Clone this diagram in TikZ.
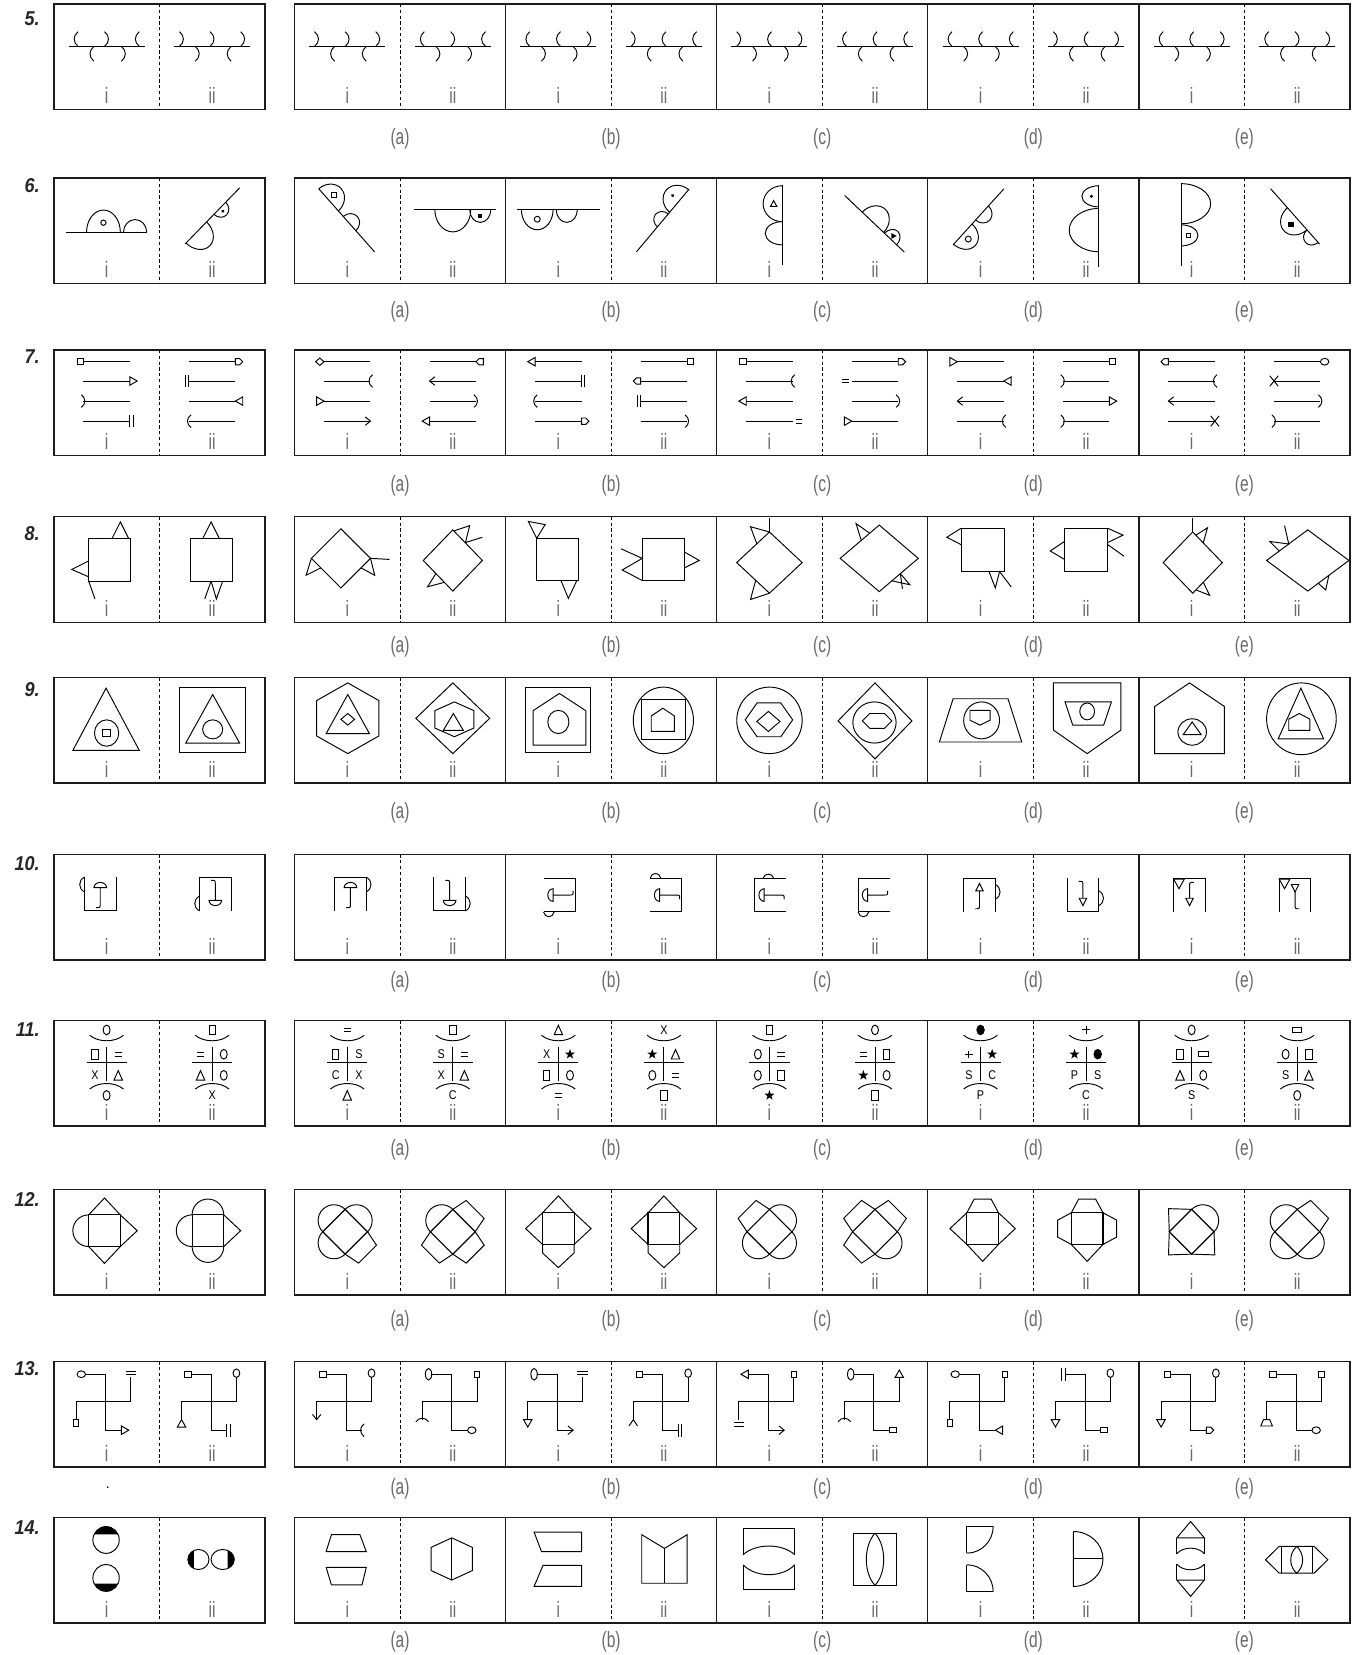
\documentclass[tikz,border=0pt]{standalone}
\usepackage{fontspec}
\setmainfont{Liberation Sans}
\definecolor{LabelGrey}{HTML}{6A6A6A}
\definecolor{FrameInk}{HTML}{1C1C1C}
\newcounter{letnode}

% one row of the sheet: #1 number, #2 top of boxes, #3 y of (a)-(e), #4 y of number
\newcommand\qrow[4]{%
  \draw[boxline] (51,-#2) rectangle (251,-#2-100);
  \draw[midline] (151,-#2) -- (151,-#2-100);
  \node[plabel] (q#1-i) at (101,-#2-87) {i};
  \node[plabel] (q#1-ii) at (201,-#2-87) {ii};
  \node[rownum] (q#1) at (38,-#4) {#1.};
  \foreach \k/\lt in {0/a,1/b,2/c,3/d,4/e}{
    \draw[boxline] (279+200*\k,-#2) rectangle (479+200*\k,-#2-100);
    \draw[midline] (379+200*\k,-#2) -- (379+200*\k,-#2-100);
    \node[plabel] (q#1\lt-i) at (329+200*\k,-#2-87) {i};
    \node[plabel] (q#1\lt-ii) at (429+200*\k,-#2-87) {ii};
    \node[plabel] (q#1\lt) at (379+200*\k,-#3) {(\lt)};
  }}

% 5: hooks on a bar (1 = "(", -1 = ")")
\newcommand\hooks[7]{%
  \begin{scope}[shift={(#1,-#2)}]
    \draw[line width=1.4pt] (-36,0) -- (36,0);
    \foreach \x/\s in {-29/#3,0/#4,29/#5}
      \draw ({\x+2*(\s)},0) .. controls ({\x-3*(\s)},4) and ({\x-3*(\s)},10) .. ({\x+2*(\s)},14);
    \foreach \x/\s in {-14/#6,16/#7}
      \draw ({\x+2*(\s)},0) .. controls ({\x-3*(\s)},-4) and ({\x-3*(\s)},-10) .. ({\x+2*(\s)},-14);
  \end{scope}}

% 6: half lobe on a line: position, radius along, radius across, side
\newcommand\lobe[4]{\draw (#1-#2,0) arc[start angle=180,end angle={180-180*(#4)},x radius=#2,y radius=#3];}

% 7 and 13: end marks, #1 end of line, #2 outward direction
\newcommand\dNo[2]{}
\newcommand\dSq[2]{\draw (#1,-2.6) rectangle ({#1+6*(#2)},2.6);}
\newcommand\dTri[2]{\draw (#1,-4) -- ({#1+7*(#2)},0) -- (#1,4) -- cycle;}
\newcommand\dTrin[2]{\draw (#1,0) -- ({#1+7*(#2)},4) -- ({#1+7*(#2)},-4) -- cycle;}
\newcommand\dArr[2]{\draw ({#1-5*(#2)},4) -- (#1,0) -- ({#1-5*(#2)},-4);}
\newcommand\dPout[2]{\draw ({#1-2*(#2)},6) .. controls ({#1+2.5*(#2)},3) and ({#1+2.5*(#2)},-3) .. ({#1-2*(#2)},-6);}
\newcommand\dPin[2]{\draw ({#1+2*(#2)},6) .. controls ({#1-2.5*(#2)},3) and ({#1-2.5*(#2)},-3) .. ({#1+2*(#2)},-6);}
\newcommand\dBar[2]{\draw (#1,-6) -- (#1,6) ({#1+3*(#2)},-6) -- ({#1+3*(#2)},6);}
\newcommand\dBarg[2]{\draw ({#1+3*(#2)},-5) -- ({#1+3*(#2)},5) ({#1+6*(#2)},-5) -- ({#1+6*(#2)},5);}
\newcommand\dPent[2]{\draw (#1,-3) -- ({#1+4*(#2)},-3) -- ({#1+7*(#2)},0) -- ({#1+4*(#2)},3) -- (#1,3) -- cycle;}
\newcommand\dPentin[2]{\draw (#1,0) -- ({#1+3*(#2)},3) -- ({#1+7*(#2)},3) -- ({#1+7*(#2)},-3) -- ({#1+3*(#2)},-3) -- cycle;}
\newcommand\dCirc[2]{\draw ({#1+4*(#2)},0) ellipse[x radius=4,y radius=3.2];}
\newcommand\dOval[2]{\draw ({#1+3*(#2)},0) ellipse[x radius=3,y radius=5.5];}
\newcommand\dDia[2]{\draw (#1,0) -- ({#1+4*(#2)},3.5) -- ({#1+8*(#2)},0) -- ({#1+4*(#2)},-3.5) -- cycle;}
\newcommand\dEq[2]{\draw ({#1+3*(#2)},1.8) -- ({#1+9*(#2)},1.8) ({#1+3*(#2)},-1.8) -- ({#1+9*(#2)},-1.8);}
\newcommand\dX[2]{\draw (#1-4,-5) -- (#1+4,5) (#1-4,5) -- (#1+4,-5);}
\newcommand\dVee[2]{\draw ({#1+6*(#2)},4) -- (#1,0) -- ({#1+6*(#2)},-4);}
\newcommand\dTrap[2]{\draw (#1,-3) -- ({#1+6*(#2)},-5.5) -- ({#1+6*(#2)},5.5) -- (#1,3) -- cycle;}
\newcommand\arrline[4]{\begin{scope}[shift={(#1,-#2)}]\draw (-22,0) -- (22,0); #3{-22}{-1}#4{22}{1}\end{scope}}
\newcommand\arrpanel[9]{\arrline{#1}{342.7}{#2}{#3}\arrline{#1}{361}{#4}{#5}\arrline{#1}{380}{#6}{#7}\arrline{#1}{399}{#8}{#9}}

% 9: outlines, centre x, centre y, width, height
\newcommand\shTri[4]{\draw[shift={(#1,-#2)}] (0,#4/2) -- (#3/2,-#4/2) -- (-#3/2,-#4/2) -- cycle;}
\newcommand\shSq[4]{\draw[shift={(#1,-#2)}] (-#3/2,-#4/2) rectangle (#3/2,#4/2);}
\newcommand\shCirc[4]{\draw[shift={(#1,-#2)}] (0,0) ellipse[x radius=#3/2,y radius=#4/2];}
\newcommand\shHex[4]{\draw[shift={(#1,-#2)}] (0,#4/2) -- (#3/2,#4/4) -- (#3/2,-#4/4) -- (0,-#4/2) -- (-#3/2,-#4/4) -- (-#3/2,#4/4) -- cycle;}
\newcommand\shHexh[4]{\draw[shift={(#1,-#2)}] (-#3/4,#4/2) -- (#3/4,#4/2) -- (#3/2,0) -- (#3/4,-#4/2) -- (-#3/4,-#4/2) -- (-#3/2,0) -- cycle;}
\newcommand\shDia[4]{\draw[shift={(#1,-#2)}] (0,#4/2) -- (#3/2,0) -- (0,-#4/2) -- (-#3/2,0) -- cycle;}
\newcommand\shPent[4]{\draw[shift={(#1,-#2)}] (0,#4/2) -- (#3/2,#4/6) -- (#3/2,-#4/2) -- (-#3/2,-#4/2) -- (-#3/2,#4/6) -- cycle;}
\newcommand\shPentd[4]{\draw[shift={(#1,-#2)}] (0,-#4/2) -- (#3/2,-#4/6) -- (#3/2,#4/2) -- (-#3/2,#4/2) -- (-#3/2,-#4/6) -- cycle;}
\newcommand\shTrap[4]{\draw[shift={(#1,-#2)}] (-#3/3,#4/2) -- (#3/3,#4/2) -- (#3/2,-#4/2) -- (-#3/2,-#4/2) -- cycle;}
\newcommand\shTrapd[4]{\draw[shift={(#1,-#2)}] (-#3/2,#4/2) -- (#3/2,#4/2) -- (#3/3,-#4/2) -- (-#3/3,-#4/2) -- cycle;}

% 10: cap and arrow tip
\newcommand\domeat[3]{\draw[shift={(#1,#2)},rotate=#3] (-6,0) arc[start angle=180,end angle=0,x radius=6,y radius=5] -- cycle;}
\newcommand\tipat[3]{\draw[shift={(#1,#2)},rotate=#3] (-3.5,0) -- (0,7) -- (3.5,0) -- cycle;}

% 11: small signs
\newcommand\glLet[3]{\stepcounter{letnode}\node[letter] (let\arabic{letnode}) at (#1,#2) {#3};}
\newcommand\glO[2]{\draw (#1,#2) ellipse[x radius=3.3,y radius=4.6];}
\newcommand\glSq[2]{\draw (#1-3,#2-4.5) rectangle (#1+3,#2+4.5);}
\newcommand\glRc[2]{\draw (#1-4.5,#2-2.5) rectangle (#1+4.5,#2+2.5);}
\newcommand\glEq[2]{\draw (#1-3.5,#2+1.8) -- (#1+3.5,#2+1.8) (#1-3.5,#2-1.8) -- (#1+3.5,#2-1.8);}
\newcommand\glTr[2]{\draw (#1-4,#2-4.5) -- (#1,#2+4.5) -- (#1+4,#2-4.5) -- cycle;}
\newcommand\glSt[2]{\fill[shift={(#1,#2)}] (90:5) -- (126:2) -- (162:5) -- (198:2) -- (234:5) -- (270:2) -- (306:5) -- (342:2) -- (18:5) -- (54:2) -- cycle;}
\newcommand\glDot[2]{\fill (#1,#2) ellipse[x radius=4,y radius=5];}
\newcommand\glPl[2]{\draw (#1-3.5,#2) -- (#1+3.5,#2) (#1,#2-3.5) -- (#1,#2+3.5);}
\newcommand\glX[2]{\glLet{#1}{#2}{X}}
\newcommand\glS[2]{\glLet{#1}{#2}{S}}
\newcommand\glC[2]{\glLet{#1}{#2}{C}}
\newcommand\glP[2]{\glLet{#1}{#2}{P}}
\newcommand\crossfig[7]{%
  \begin{scope}[shift={(#1,-966.8)}]
    #2{0}{-9}
    \draw (-16,-14) .. controls (-8,-21) and (8,-21) .. (16,-14);
    \draw[line width=1.3pt] (-19,-40) -- (19,-40);
    \draw (0,-25) -- (0,-57);
    #3{-11}{-32} #4{11}{-32} #5{-11}{-52} #6{11}{-52}
    \draw (-16,-65) .. controls (-8,-58) and (8,-58) .. (16,-65);
    #7{0}{-71}
  \end{scope}}

% 12: square (or diamond) with pieces on its sides: top, right, bottom, left
\newcommand\atT{\draw (-15,15) -- (0,31) -- (15,15);}
\newcommand\atC{\draw (-15,15) arc[start angle=180,end angle=0,x radius=15,y radius=15];}
\newcommand\atQ{\draw (-15,15) -- (-12,30) -- (12,30) -- (15,15);}
\newcommand\atN{\draw (-15,15) -- (-8,28) -- (8,28) -- (15,15);}
\newcommand\atP{\draw (-15,15) -- (-15,23) -- (0,37) -- (15,23) -- (15,15);}
\newcommand\sqcore[7]{%
  \begin{scope}[shift={(#1,-#2)},rotate=#3]
    \draw[line width=1.1pt] (-15,-15) rectangle (15,15);
    #4
    \begin{scope}[rotate=-90] #5 \end{scope}
    \begin{scope}[rotate=180] #6 \end{scope}
    \begin{scope}[rotate=90] #7 \end{scope}
  \end{scope}}

% 13: two crossing hooks with end marks
\newcommand\zfig[5]{%
  \begin{scope}[shift={(#1,-1288)}]
    \draw (-20,-14) -- (-1,-14) -- (-1,-67) -- (14,-67);
    \draw (23,-17) -- (23,-40) -- (-29,-40) -- (-29,-57);
    \begin{scope}[shift={(-20,-14)},rotate=180] #2{0}{1} \end{scope}
    \begin{scope}[shift={(14,-67)}] #3{0}{1} \end{scope}
    \begin{scope}[shift={(23,-17)},rotate=90] #4{0}{1} \end{scope}
    \begin{scope}[shift={(-29,-57)},rotate=-90] #5{0}{1} \end{scope}
  \end{scope}}

\begin{document}
\begin{tikzpicture}[
    x=1pt,y=1pt,line width=0.9pt,
    boxline/.style={line width=1.3pt,draw=FrameInk},
    midline/.style={line width=0.8pt,dash pattern=on 3pt off 2.5pt},
    plabel/.style={font=\fontsize{21}{21}\selectfont,text=LabelGrey,xscale=0.7,inner sep=0pt},
    rownum/.style={font=\fontsize{19}{19}\selectfont\bfseries\itshape,text=black!85,anchor=east,xscale=0.9,inner sep=0pt},
    letter/.style={font=\fontsize{12}{12}\selectfont,xscale=0.85,inner sep=0pt}
  ]
  \fill[white] (0,0) rectangle (1281,-1568);
  \useasboundingbox (0,0) rectangle (1281,-1568);

  \qrow{5}{3.8}{131.7}{18}
  \qrow{6}{168.7}{295.6}{175.5}
  \qrow{7}{331.6}{460.3}{338}
  \qrow{8}{489.6}{612.7}{506}
  \qrow{9}{641.8}{770}{653}
  \qrow{10}{809.5}{930}{818}
  \qrow{11}{966.8}{1089.6}{975}
  \qrow{12}{1126.9}{1251.7}{1136}
  \qrow{13}{1289.9}{1410.5}{1297}
  \qrow{14}{1437.7}{1555.7}{1447}
  \fill (102,-1409) circle[radius=0.9];

  % 5
  \hooks{101}{44}{1}{-1}{1}{1}{-1}
  \hooks{201}{44}{-1}{-1}{-1}{-1}{1}
  \hooks{329}{44}{-1}{-1}{-1}{1}{1}
  \hooks{429}{44}{1}{-1}{1}{-1}{-1}
  \hooks{529}{44}{1}{1}{-1}{-1}{-1}
  \hooks{629}{44}{-1}{1}{1}{1}{1}
  \hooks{729}{44}{-1}{1}{-1}{-1}{-1}
  \hooks{829}{44}{1}{1}{1}{1}{1}
  \hooks{929}{44}{1}{1}{1}{-1}{-1}
  \hooks{1029}{44}{-1}{1}{-1}{1}{1}
  \hooks{1129}{44}{1}{1}{-1}{-1}{-1}
  \hooks{1229}{44}{1}{-1}{-1}{1}{1}

  % 6
  \begin{scope}[shift={(101,-220)}]
    \draw (-38,0) -- (38,0); \lobe{-3}{16}{21}{1} \lobe{27}{11}{12}{1}
    \draw (-3,9) circle[radius=2.5];
  \end{scope}
  \begin{scope}[shift={(201.3,-204.5)},rotate=45.8]
    \draw (-37,0) -- (37,0); \lobe{-22}{14}{18}{-1} \lobe{10}{8}{9}{-1}
    \fill (10,-4) circle[radius=1.6];
  \end{scope}
  \begin{scope}[shift={(328.5,-208.8)},rotate=-48.5]
    \draw (-40,0) -- (40,0); \lobe{-26}{14}{16}{1} \lobe{4}{9}{10}{1}
    \draw[shift={(-26,7)},rotate=48.5] (-2.2,-2.2) rectangle (2.2,2.2);
  \end{scope}
  \begin{scope}[shift={(431,-198.7)}]
    \draw (-39,0) -- (39,0); \lobe{-2}{17}{21}{-1} \lobe{24}{10}{12}{-1}
    \fill (22,-8) rectangle (26,-4);
  \end{scope}
  \begin{scope}[shift={(529,-198.7)}]
    \draw (-39,0) -- (39,0); \lobe{-20}{15}{19}{-1} \lobe{8}{10}{12}{-1}
    \draw (-20,-9) circle[radius=2.8];
  \end{scope}
  \begin{scope}[shift={(628,-208.8)},rotate=50]
    \draw (-39,0) -- (39,0); \lobe{24}{14}{16}{1} \lobe{0}{8}{9}{1}
    \fill (24,8) circle[radius=1.6];
  \end{scope}
  \begin{scope}[shift={(741,-213)},rotate=90]
    \draw (-38,0) -- (38,0); \lobe{20}{17}{18}{1} \lobe{-8}{11}{16}{1}
    \draw[shift={(20,8)},rotate=-90] (-3,-2.5) -- (3,-2.5) -- (0,3) -- cycle;
  \end{scope}
  \begin{scope}[shift={(828.5,-212)},rotate=-43.5]
    \draw (-39,0) -- (39,0); \lobe{-2}{14}{17}{1} \lobe{21}{8}{10}{1}
    \fill[shift={(21,4)},rotate=43.5] (-2,-2.8) -- (3,0) -- (-2,2.8) -- cycle;
  \end{scope}
  \begin{scope}[shift={(927,-205.5)},rotate=47.8]
    \draw (-36,0) -- (36,0); \lobe{-22}{13}{16}{-1} \lobe{5}{9}{10}{-1}
    \draw (-22,-7) circle[radius=2.8];
  \end{scope}
  \begin{scope}[shift={(1041,-214)},rotate=90]
    \draw (-39,0) -- (39,0); \lobe{28}{10}{16}{1} \lobe{-4}{20.5}{28}{1}
    \fill (28,7) circle[radius=1.6];
  \end{scope}
  \begin{scope}[shift={(1119,-213)},rotate=90]
    \draw (-39,0) -- (39,0); \lobe{20}{19}{28}{-1} \lobe{-10}{10}{16}{-1}
    \draw (-12.2,-9.2) rectangle (-7.8,-4.8);
  \end{scope}
  \begin{scope}[shift={(1227,-205)},rotate=-48.5]
    \draw (-35,0) -- (35,0); \lobe{3}{14}{17}{-1} \lobe{25}{8}{9}{-1}
    \fill[shift={(3,-8)},rotate=48.5] (-2.5,-2.5) rectangle (2.5,2.5);
  \end{scope}

  % 7
  \arrpanel{101}{\dSq}{\dNo}{\dNo}{\dTri}{\dPin}{\dNo}{\dNo}{\dBar}
  \arrpanel{201}{\dNo}{\dPent}{\dBar}{\dNo}{\dNo}{\dTrin}{\dPout}{\dNo}
  \arrpanel{329}{\dDia}{\dNo}{\dNo}{\dPin}{\dTrin}{\dNo}{\dNo}{\dArr}
  \arrpanel{429}{\dNo}{\dPentin}{\dArr}{\dNo}{\dNo}{\dPout}{\dTri}{\dNo}
  \arrpanel{529}{\dTri}{\dNo}{\dNo}{\dBar}{\dPout}{\dNo}{\dNo}{\dPent}
  \arrpanel{629}{\dNo}{\dSq}{\dPent}{\dNo}{\dBar}{\dNo}{\dNo}{\dPout}
  \arrpanel{729}{\dSq}{\dNo}{\dNo}{\dPin}{\dTri}{\dNo}{\dNo}{\dEq}
  \arrpanel{829}{\dNo}{\dPent}{\dEq}{\dNo}{\dNo}{\dPout}{\dTrin}{\dNo}
  \arrpanel{929}{\dTrin}{\dNo}{\dNo}{\dTrin}{\dArr}{\dNo}{\dNo}{\dPin}
  \arrpanel{1029}{\dNo}{\dSq}{\dPin}{\dNo}{\dNo}{\dTri}{\dPin}{\dNo}
  \arrpanel{1129}{\dPent}{\dNo}{\dNo}{\dPin}{\dArr}{\dNo}{\dNo}{\dX}
  \arrpanel{1229}{\dNo}{\dCirc}{\dX}{\dNo}{\dNo}{\dPout}{\dPin}{\dNo}

  % 8
  \begin{scope}[shift={(104,-530.5)}]
    \draw (-20,-20) rectangle (20,20);
    \draw (2,20) -- (10,36) -- (18,20);
    \draw (-20,-1) -- (-36,-9) -- (-20,-16);
    \draw (-20,-20) -- (-14,-37);
  \end{scope}
  \begin{scope}[shift={(200,-530.5)}]
    \draw (-20,-20) rectangle (20,20);
    \draw (-8,20) -- (0,36) -- (8,20);
    \draw (0,-20) -- (5,-37) -- (11,-20);
    \draw (0,-20) -- (-6,-37);
  \end{scope}
  \begin{scope}[shift={(323,-529)}]
    \draw (0,28) -- (28,0) -- (0,-28) -- (-28,0) -- cycle;
    \draw (-28,0) -- (-33,-16) -- (-19,-9);
    \draw (28,0) -- (46,-1);
    \draw (28,0) -- (32,-16) -- (19,-9);
  \end{scope}
  \begin{scope}[shift={(429,-531)}]
    \draw (0,29) -- (28,0) -- (0,-29) -- (-28,0) -- cycle;
    \draw (1,28) -- (16,33) -- (12,17) -- (28,22);
    \draw (-8,-20.7) -- (-24,-25) -- (-16,-12.4);
  \end{scope}
  \begin{scope}[shift={(528.5,-530)}]
    \draw (-20,-20) rectangle (20,20);
    \draw (-20,20) -- (-28,36) -- (-12,33) -- cycle;
    \draw (3,-20) -- (10,-37) -- (18,-20);
  \end{scope}
  \begin{scope}[shift={(628.5,-530)}]
    \draw (-20,-20) rectangle (20,20);
    \draw (-40,10) -- (-20,1) -- (-39,-10) -- (-20,-20);
    \draw (20,7) -- (34,-1) -- (20,-8);
  \end{scope}
  \begin{scope}[shift={(729,-533)}]
    \draw (0,29) -- (31,0) -- (0,-29) -- (-31,0) -- cycle;
    \draw (0,29) -- (0,42);
    \draw (0,29) -- (-18,34) -- (-12,17.8);
    \draw (0,-29) -- (-18,-35) -- (-13,-16.8);
  \end{scope}
  \begin{scope}[shift={(833,-529)}]
    \draw (0,31.5) -- (37,0) -- (0,-31.5) -- (-37,0) -- cycle;
    \draw (-9,23.8) -- (-22,33) -- (-17,17);
    \draw (20,-14.5) -- (29,-25) -- (12,-21.3);
    \draw (20,-14.5) -- (22,-29);
  \end{scope}
  \begin{scope}[shift={(931,-521)}]
    \draw (-20.5,-20.5) rectangle (20.5,20.5);
    \draw (-20.5,20.5) -- (-34,12) -- (-20.5,5);
    \draw (6,-20.5) -- (12,-36) -- (16,-20.5) -- (27,-35);
  \end{scope}
  \begin{scope}[shift={(1029,-521)}]
    \draw (-20.5,-20.5) rectangle (20.5,20.5);
    \draw (-20.5,8) -- (-34,-1) -- (-20.5,-9);
    \draw (20.5,20.5) -- (35,14) -- (20.5,7);
    \draw (20.5,5) -- (36,-6);
  \end{scope}
  \begin{scope}[shift={(1130,-533)}]
    \draw (0,29) -- (28,0) -- (0,-29) -- (-28,0) -- cycle;
    \draw (0,29) -- (0,42);
    \draw (3,25.9) -- (14,33) -- (10,18.6);
    \draw (3,-25.9) -- (16,-31) -- (10,-18.6);
  \end{scope}
  \begin{scope}[shift={(1239,-531)}]
    \draw (0,29) -- (39,0) -- (0,-29) -- (-39,0) -- cycle;
    \draw (-27,8.9) -- (-36,18) -- (-18,15.6) -- (-22,33);
    \draw (20,-14.1) -- (17,-28) -- (10,-21.6);
  \end{scope}

  % 9
  \shTri{100.5}{681.5}{63}{59} \shCirc{101}{694.5}{23}{25} \shSq{101}{694.5}{8}{7}
  \shSq{201.5}{682}{63}{62} \shTri{201.5}{681}{51}{46} \shCirc{201.5}{691}{19}{18}
  \shHex{329.5}{680.5}{59}{67} \shTri{329.5}{676.5}{41}{37} \shDia{329.5}{681.5}{13}{11}
  \shDia{429}{680.5}{70}{67} \shHex{430.5}{681.5}{37}{33} \shTri{429.5}{684}{19}{16}
  \shSq{528.5}{682}{61}{62} \shPent{530}{681.5}{50}{49} \shCirc{529}{684}{20}{22}
  \shCirc{628.5}{682.5}{57}{63} \shSq{628.5}{682}{41}{38} \shPent{628}{682}{22}{22}
  \shCirc{729}{682.5}{62}{63} \shHexh{728.5}{682}{45}{32} \shDia{728}{683.5}{22}{19}
  \shDia{829}{683}{70}{72} \shCirc{828.5}{684.5}{41}{39} \shHexh{831}{683}{28}{14}
  \shTrap{929}{682.5}{78}{41} \shCirc{930}{682.5}{34}{35} \shPentd{928.5}{680}{19}{14}
  \shPentd{1030}{680.5}{64}{67} \shTrapd{1031}{676}{44}{22} \shCirc{1030}{674}{14}{16}
  \shPent{1127}{680.5}{66}{67} \shCirc{1129.5}{693.5}{27}{25} \shTri{1129.5}{690}{17}{12}
  \shCirc{1233}{681}{66}{68} \shTri{1232.5}{676}{43}{48} \shPent{1231}{684}{20}{16}

  % 10
  \begin{scope}[shift={(95,-847)}]
    \draw (-15,16) -- (-15,-16) -- (15,-16) -- (15,16);
    \draw (-15,16) .. controls (-21,13) and (-21,5) .. (-15,2);
    \domeat{0}{6}{0}
    \draw (0,6) -- (0,-9) .. controls (0,-13) .. (-4,-13);
  \end{scope}
  \begin{scope}[shift={(204,-847)}]
    \draw (-15,-16) -- (-15,16) -- (15,16) -- (15,-16);
    \draw (-15,-16) .. controls (-21,-13) and (-21,-5) .. (-15,-2);
    \domeat{0}{-6}{180}
    \draw (0,-6) -- (0,9) .. controls (0,13) .. (-4,13);
  \end{scope}
  \begin{scope}[shift={(332,-847)}]
    \draw (-15,-16) -- (-15,16) -- (15,16) -- (15,-16);
    \draw (15,16) .. controls (21,13) and (21,5) .. (15,2);
    \domeat{0}{6}{0}
    \draw (0,6) -- (0,-9) .. controls (0,-13) .. (-4,-13);
  \end{scope}
  \begin{scope}[shift={(426,-847)}]
    \draw (-15,16) -- (-15,-16) -- (15,-16) -- (15,16);
    \draw (15,-16) .. controls (21,-13) and (21,-5) .. (15,-2);
    \domeat{0}{-6}{180}
    \draw (0,-6) -- (0,9) .. controls (0,13) .. (-4,13);
  \end{scope}
  \begin{scope}[shift={(530,-848)}]
    \draw (-15,16) -- (15,16) -- (15,-16) -- (-15,-16);
    \draw (-15,-16) .. controls (-14,-22) and (-6,-22) .. (-5,-16);
    \domeat{-6}{0}{90}
    \draw (-6,0) -- (9,0) .. controls (13,0) .. (13,4);
  \end{scope}
  \begin{scope}[shift={(631,-848)}]
    \draw (-15,16) -- (15,16) -- (15,-16) -- (-15,-16);
    \draw (-15,16) .. controls (-14,22) and (-6,22) .. (-5,16);
    \domeat{-6}{0}{90}
    \draw (-6,0) -- (9,0) .. controls (13,0) .. (13,-4);
  \end{scope}
  \begin{scope}[shift={(730,-848)}]
    \draw (15,16) -- (-15,16) -- (-15,-16) -- (15,-16);
    \draw (-7,16) .. controls (-6,21) and (2,21) .. (3,16);
    \domeat{-6}{0}{90}
    \draw (-6,0) -- (9,0) .. controls (13,0) .. (13,-4);
  \end{scope}
  \begin{scope}[shift={(828,-848)}]
    \draw (15,16) -- (-15,16) -- (-15,-16) -- (15,-16);
    \draw (-15,-16) .. controls (-14,-22) and (-6,-22) .. (-5,-16);
    \domeat{-6}{0}{90}
    \draw (-6,0) -- (9,0) .. controls (13,0) .. (13,4);
  \end{scope}
  \begin{scope}[shift={(928,-848)}]
    \draw (-15,-16) -- (-15,16) -- (15,16) -- (15,-16);
    \draw (15,10) .. controls (21,7) and (21,-1) .. (15,-4);
    \tipat{0}{4}{0}
    \draw (0,4) -- (0,-9) .. controls (0,-13) .. (-4,-13);
  \end{scope}
  \begin{scope}[shift={(1026,-848)}]
    \draw (-15,16) -- (-15,-16) -- (15,-16) -- (15,16);
    \draw (15,4) .. controls (21,1) and (21,-7) .. (15,-10);
    \tipat{0}{-3}{180}
    \draw (0,-3) -- (0,9) .. controls (0,13) .. (-4,13);
  \end{scope}
  \begin{scope}[shift={(1127,-848)}]
    \draw (-15,-16) -- (-15,16) -- (15,16) -- (15,-16);
    \draw (-15,15) -- (-5,15) -- (-10,6) -- cycle;
    \draw (4,12) .. controls (0,12) .. (0,8) -- (0,-3);
    \tipat{0}{-3}{180}
  \end{scope}
  \begin{scope}[shift={(1227,-848)}]
    \draw (-15,-16) -- (-15,16) -- (15,16) -- (15,-16);
    \draw (-15,15) -- (-5,15) -- (-10,6) -- cycle;
    \tipat{0}{10}{180}
    \draw (0,3) -- (0,-9) .. controls (0,-13) .. (4,-13);
  \end{scope}

  % 11
  \crossfig{101}{\glO}{\glSq}{\glEq}{\glX}{\glTr}{\glO}
  \crossfig{201}{\glSq}{\glEq}{\glO}{\glTr}{\glO}{\glX}
  \crossfig{329}{\glEq}{\glSq}{\glS}{\glC}{\glX}{\glTr}
  \crossfig{429}{\glSq}{\glS}{\glEq}{\glX}{\glTr}{\glC}
  \crossfig{529}{\glTr}{\glX}{\glSt}{\glSq}{\glO}{\glEq}
  \crossfig{629}{\glX}{\glSt}{\glTr}{\glO}{\glEq}{\glSq}
  \crossfig{729}{\glSq}{\glO}{\glEq}{\glO}{\glSq}{\glSt}
  \crossfig{829}{\glO}{\glEq}{\glSq}{\glSt}{\glO}{\glSq}
  \crossfig{929}{\glDot}{\glPl}{\glSt}{\glS}{\glC}{\glP}
  \crossfig{1029}{\glPl}{\glSt}{\glDot}{\glP}{\glS}{\glC}
  \crossfig{1129}{\glO}{\glSq}{\glRc}{\glTr}{\glO}{\glS}
  \crossfig{1229}{\glRc}{\glO}{\glSq}{\glS}{\glTr}{\glO}

  % 12
  \sqcore{99}{1166}{0}{\atT}{\atT}{\atT}{\atC}
  \sqcore{197}{1166}{0}{\atC}{\atT}{\atC}{\atC}
  \sqcore{327}{1167}{45}{\atC}{\atC}{\atQ}{\atC}
  \sqcore{429}{1167}{45}{\atC}{\atQ}{\atQ}{\atQ}
  \sqcore{529}{1164}{0}{\atT}{\atT}{\atP}{\atT}
  \sqcore{629}{1164}{0}{\atT}{\atT}{\atP}{\atT}
  \sqcore{729}{1167}{45}{\atQ}{\atC}{\atC}{\atC}
  \sqcore{829}{1167}{45}{\atQ}{\atQ}{\atC}{\atQ}
  \sqcore{931}{1164}{0}{\atN}{\atT}{\atT}{\atT}
  \sqcore{1030}{1164}{0}{\atN}{\atN}{\atT}{\atN}
  \sqcore{1129}{1167}{45}{\atT}{\atC}{\atT}{\atT}
  \sqcore{1229}{1167}{45}{\atC}{\atQ}{\atC}{\atC}

  % 13
  \zfig{101}{\dCirc}{\dTri}{\dBarg}{\dSq}
  \zfig{201}{\dSq}{\dBar}{\dCirc}{\dTrin}
  \zfig{329}{\dSq}{\dPin}{\dCirc}{\dArr}
  \zfig{429}{\dOval}{\dCirc}{\dSq}{\dPin}
  \zfig{529}{\dOval}{\dArr}{\dBarg}{\dTri}
  \zfig{629}{\dSq}{\dBar}{\dCirc}{\dVee}
  \zfig{729}{\dTri}{\dArr}{\dSq}{\dBarg}
  \zfig{829}{\dOval}{\dSq}{\dTri}{\dPin}
  \zfig{929}{\dCirc}{\dTrin}{\dSq}{\dSq}
  \zfig{1029}{\dBar}{\dSq}{\dCirc}{\dTri}
  \zfig{1129}{\dSq}{\dPent}{\dCirc}{\dTri}
  \zfig{1229}{\dSq}{\dCirc}{\dSq}{\dTrap}

  % 14
  \draw (100.5,-1459) ellipse[x radius=12.5,y radius=12.7];
  \fill[shift={(100.5,-1459)}] (25:12.5 and 12.7) arc[start angle=25,end angle=155,x radius=12.5,y radius=12.7] -- cycle;
  \draw (100.5,-1495) ellipse[x radius=12.5,y radius=12.7];
  \fill[shift={(100.5,-1495)}] (205:12.5 and 12.7) arc[start angle=205,end angle=335,x radius=12.5,y radius=12.7] -- cycle;
  \draw (188,-1477.5) ellipse[x radius=10,y radius=9.5];
  \fill[shift={(188,-1477.5)}] (115:10 and 9.5) arc[start angle=115,end angle=245,x radius=10,y radius=9.5] -- cycle;
  \draw (211,-1477.5) ellipse[x radius=11,y radius=9.5];
  \fill[shift={(211,-1477.5)}] (-65:11 and 9.5) arc[start angle=-65,end angle=65,x radius=11,y radius=9.5] -- cycle;
  \draw (314,-1454) -- (341,-1454) -- (347,-1470) -- (309,-1470) -- cycle;
  \draw (309,-1485) -- (347,-1485) -- (343,-1501.5) -- (314,-1501.5) -- cycle;
  \draw (428,-1457) -- (447.5,-1466) -- (447.5,-1488) -- (428,-1497) -- (408.5,-1488) -- (408.5,-1466) -- cycle;
  \draw (428,-1457) -- (428,-1497);
  \draw (506,-1451.5) -- (551,-1451.5) -- (551,-1470) -- (513,-1470) -- cycle;
  \draw (514.5,-1483) -- (551,-1483) -- (551,-1503) -- (506,-1503) -- cycle;
  \draw (608,-1454) -- (629.5,-1467) -- (651,-1454) -- (651,-1500) -- (608,-1500) -- cycle;
  \draw (629.5,-1467) -- (629.5,-1500);
  \draw (704,-1473) -- (704,-1448) -- (753,-1448) -- (753,-1473);
  \draw (704,-1473) .. controls (716,-1462) and (741,-1462) .. (753,-1473);
  \draw (704,-1482.5) -- (704,-1506) -- (753,-1506) -- (753,-1482.5);
  \draw (704,-1482.5) .. controls (716,-1495) and (741,-1495) .. (753,-1482.5);
  \draw (808.5,-1452.5) rectangle (849.5,-1502);
  \draw (829,-1452.5) .. controls (840,-1465) and (840,-1490) .. (829,-1502) .. controls (818,-1490) and (818,-1465) .. (829,-1452.5);
  \draw (941,-1446) -- (916,-1446) -- (916,-1471.5);
  \draw (941,-1446) arc[start angle=0,end angle=-90,x radius=25,y radius=25.5];
  \draw (941,-1508) -- (916,-1508) -- (916,-1482.5);
  \draw (941,-1508) arc[start angle=0,end angle=90,x radius=25,y radius=25.5];
  \draw (1017,-1451) -- (1017,-1503) arc[start angle=-90,end angle=90,x radius=28,y radius=26];
  \draw (1017,-1477) -- (1045,-1477);
  \draw (1115,-1457) -- (1128,-1441.5) -- (1141,-1457) -- cycle;
  \draw (1115,-1497) -- (1128,-1512.5) -- (1141,-1497) -- cycle;
  \draw (1115,-1457) -- (1115,-1472) (1141,-1457) -- (1141,-1472);
  \draw (1115,-1472) .. controls (1121,-1465) and (1135,-1465) .. (1141,-1472);
  \draw (1115,-1482) -- (1115,-1497) (1141,-1482) -- (1141,-1497);
  \draw (1115,-1482) .. controls (1121,-1489) and (1135,-1489) .. (1141,-1482);
  \draw (1199,-1477.7) -- (1212,-1465) -- (1245,-1465) -- (1258,-1477.7) -- (1245,-1490.5) -- (1212,-1490.5) -- cycle;
  \draw (1214,-1465) -- (1214,-1490.5) (1243,-1465) -- (1243,-1490.5);
  \draw (1228.5,-1465) .. controls (1236,-1472) and (1236,-1484) .. (1228.5,-1490.5) .. controls (1221,-1484) and (1221,-1472) .. (1228.5,-1465);
\end{tikzpicture}
\end{document}
